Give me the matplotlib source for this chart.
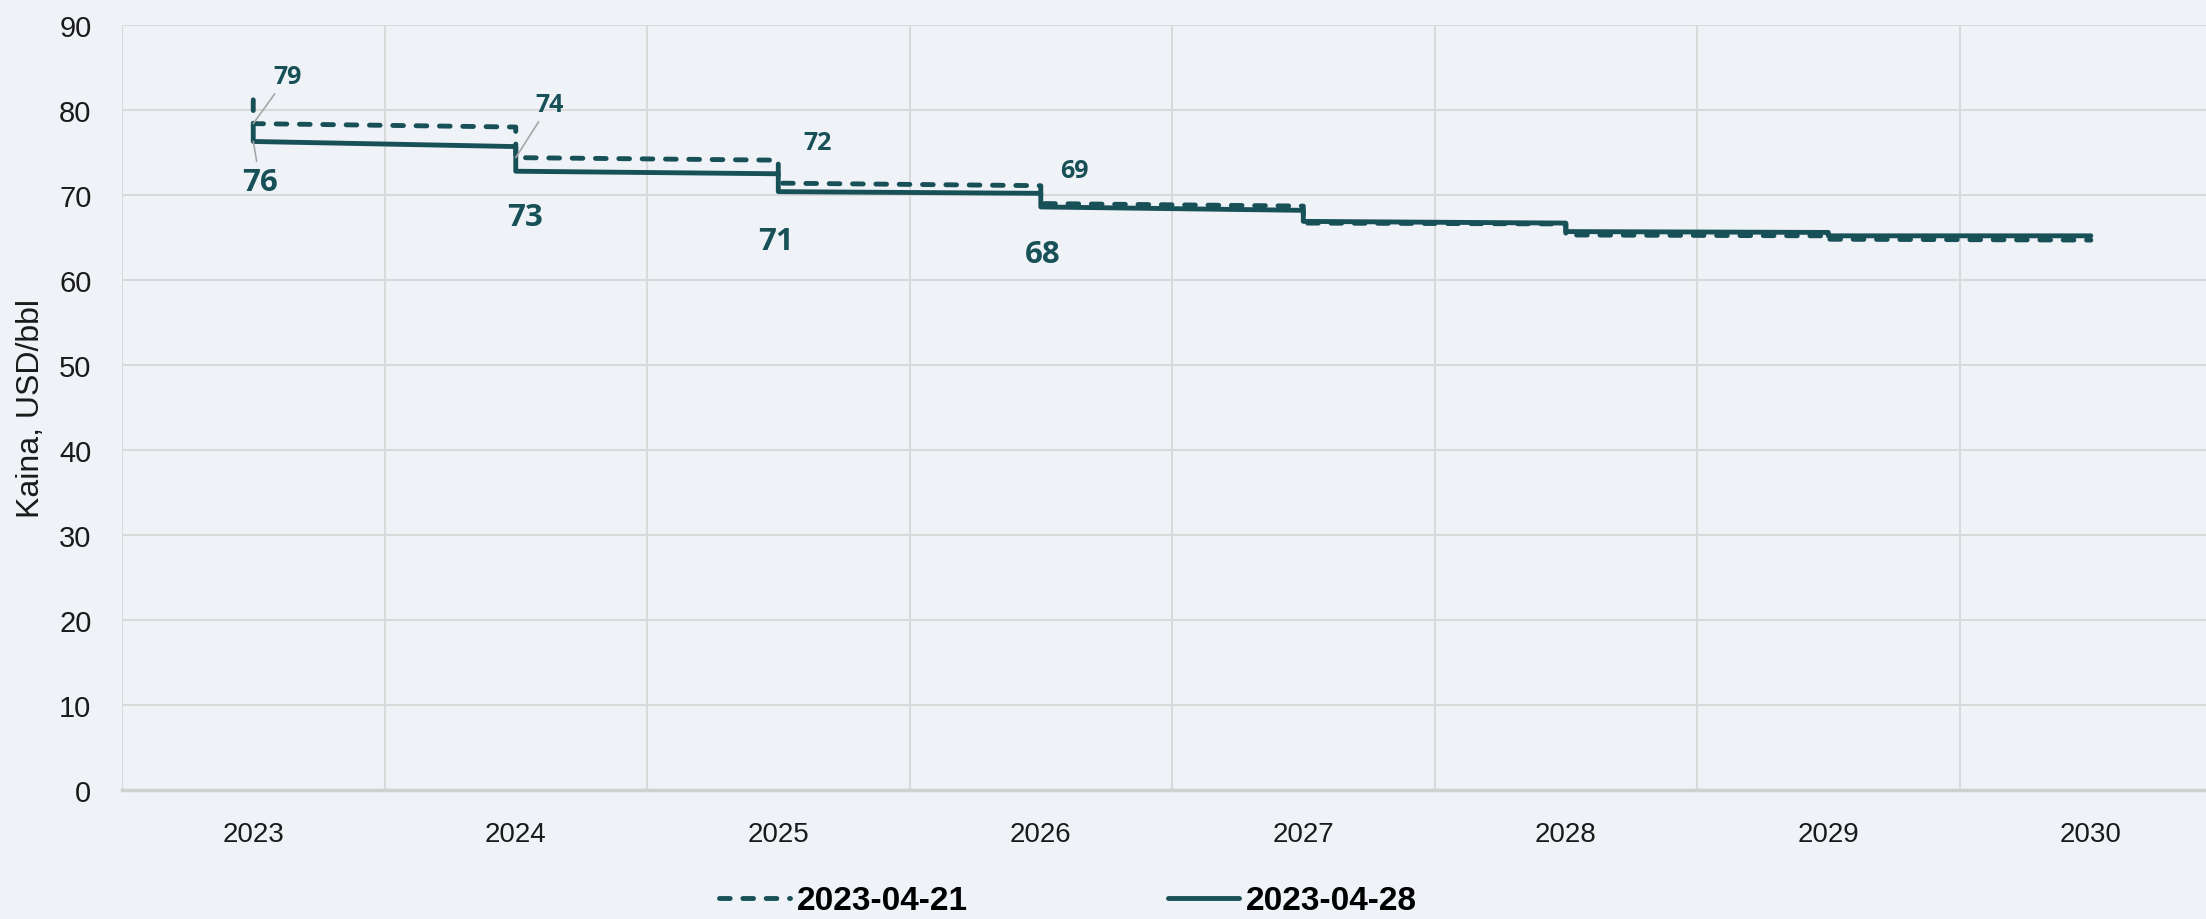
import matplotlib
matplotlib.use('Agg')
import matplotlib.pyplot as plt

# values
years = [2023, 2024, 2025, 2026, 2027, 2028, 2029, 2030]

# 2023-04-21 (dashed): first point, then start/end value of each yearly step
prev_first = 81.2
prev_start = [78.4, 74.4, 71.4, 69.0, 66.7, 65.3, 64.8]
prev_end = [78.0, 74.1, 71.1, 68.7, 66.6, 65.2, 64.7]
prev_labels = [79, 74, 72, 69]

# 2023-04-28 (solid)
curr_first = 78.3
curr_start = [76.3, 72.8, 70.4, 68.6, 66.9, 65.7, 65.2]
curr_end = [75.7, 72.5, 70.2, 68.2, 66.7, 65.6, 65.2]
curr_labels = [76, 73, 71, 68]

series_names = ['2023-04-21', '2023-04-28']

TEAL = '#185058'
BG = '#EFF3F7'
GRID = '#D9D9D9'
SANS = 'Liberation Sans'


def step_path(first, seg_start, seg_end):
    xs, ys = [years[0]], [first]
    for i in range(len(seg_start)):
        xs += [years[i], years[i + 1]]
        ys += [seg_start[i], seg_end[i]]
    return xs, ys


fig = plt.figure(figsize=(22.06, 9.2), dpi=100, facecolor=BG)
ax = fig.add_axes([0.0553, 0.1402, 0.952, 0.8315])
ax.set_facecolor(BG)

x1, y1 = step_path(prev_first, prev_start, prev_end)
x2, y2 = step_path(curr_first, curr_start, curr_end)
ax.plot(x1, y1, color=TEAL, lw=3.5, linestyle=(0, (2.2, 2.6)),
        dash_capstyle='round', solid_joinstyle='round', label=series_names[0], zorder=3)
ax.plot(x2, y2, color=TEAL, lw=3.5, solid_capstyle='round',
        solid_joinstyle='round', label=series_names[1], zorder=3)

# data labels (offsets in points from the step start)
prev_off = [(24.5, 34), (24.5, 38.5), (28, 29.5), (24.5, 24)]
curr_off = [(5, -29), (6.5, -33), (-2, -35.5), (1.5, -34)]
leader = [True, True, False, False]
for i in range(len(prev_labels)):
    arrow = dict(arrowstyle='-', color='#A6A6A6', lw=1.2, shrinkA=2, shrinkB=0) if leader[i] else None
    ax.annotate(str(prev_labels[i]), xy=(years[i], prev_start[i]), xytext=prev_off[i],
                textcoords='offset points', ha='center', va='center',
                fontsize=18, fontweight='bold', family='Open Sans', color=TEAL,
                arrowprops=arrow, zorder=4)
    arrow = dict(arrowstyle='-', color='#A6A6A6', lw=1.2, shrinkA=2, shrinkB=0) if i == 0 else None
    ax.annotate(str(curr_labels[i]), xy=(years[i], curr_start[i]), xytext=curr_off[i],
                textcoords='offset points', ha='center', va='center',
                fontsize=22.5, fontweight='bold', family='Open Sans', color=TEAL,
                arrowprops=arrow, zorder=4)

ax.set_xlim(years[0] - 0.5, years[-1] + 0.5)
ax.set_ylim(0, 90)
ax.set_yticks(range(0, 91, 10))
ax.set_xticks(years)
ax.set_xticks([y - 0.5 for y in years] + [years[-1] + 0.5], minor=True)
ax.grid(axis='y', color=GRID, lw=1.5)
ax.grid(axis='x', which='minor', color=GRID, lw=1.5)
ax.set_axisbelow(True)
ax.tick_params(which='both', length=0)
ax.tick_params(axis='y', pad=22, labelsize=21, labelcolor='#1A1A1A')
ax.tick_params(axis='x', pad=22, labelsize=20, labelcolor='#1A1A1A')
for lab in ax.get_xticklabels() + ax.get_yticklabels():
    lab.set_family(SANS)

for side in ['top', 'right', 'left']:
    ax.spines[side].set_visible(False)
ax.spines['bottom'].set_color('#D0D0D0')
ax.spines['bottom'].set_linewidth(2.5)

ax.set_ylabel('Kaina, USD/bbl', family=SANS, fontsize=23, color='#1A1A1A')
ax.yaxis.set_label_coords(-0.036, 0.5)

leg = fig.legend(loc='center', bbox_to_anchor=(1068 / 2206, 1 - 902 / 920), ncol=2,
                 frameon=False, handlelength=2.13, handletextpad=0.2, columnspacing=6.0,
                 prop={'family': SANS, 'weight': 'bold', 'size': 24})

fig.savefig('out.png', dpi=100, facecolor=BG)
